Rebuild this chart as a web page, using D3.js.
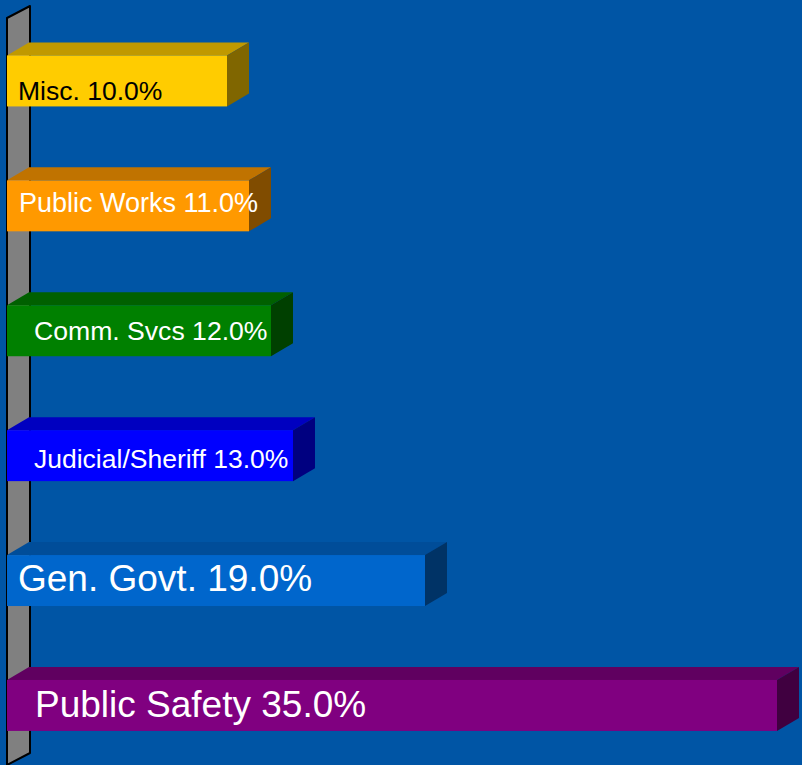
<!DOCTYPE html>
<meta charset="utf-8">
<style>
  body {
    margin: 0;
    background-color: #0055a5;
    font-family: "Liberation Sans", Arial, sans-serif;
  }

  #chart svg {
    display: block;
  }
</style>

<body>
  <div id="chart"></div>

  <script src="https://d3js.org/d3.v7.min.js"></script>
  <script>

    // data, top bar to bottom bar
    var categories = ["Misc.", "Public Works", "Comm. Svcs", "Judicial/Sheriff", "Gen. Govt.", "Public Safety"];
    var shares = [10.0, 11.0, 12.0, 13.0, 19.0, 35.0];

    // face colours for each bar
    var frontColors = ["#ffcc00", "#ff9900", "#008000", "#0000ff", "#0066cc", "#800080"];
    var topColors = ["#c09900", "#c07300", "#006000", "#0000c0", "#004d99", "#600060"];
    var sideColors = ["#806600", "#804c00", "#004000", "#000080", "#003366", "#400040"];

    // label look: colour, font size, left position, baseline below bar top
    var labelColors = ["black", "white", "white", "white", "white", "white"];
    var labelSizes = [26.5, 27, 26.6, 26.5, 37, 37];
    var labelLeft = [18, 19, 34, 34, 18, 35];
    var labelDrop = [44.5, 32, 34.5, 38, 36, 37];

    var width = 802,
      height = 765;

    // 3d depth offset
    var dx = 22, dy = -13;

    var svg = d3.select("#chart")
      .append("svg")
      .attr("width", width)
      .attr("height", height);

    var x = d3.scaleLinear()
      .domain([0, 35])
      .range([7, 777]);

    var y = d3.scaleBand()
      .domain(categories)
      .range([18.5, 767.9])
      .paddingInner(0.592)
      .paddingOuter(0.296);

    // grey side wall
    var wallTop = 18, wallBottom = 765, x0 = x(0);
    svg.append("polygon")
      .attr("points", [
        [x0, wallTop], [x0 + dx + 1, wallTop - 12],
        [x0 + dx + 1, wallBottom - 12], [x0, wallBottom]
      ].join(" "))
      .attr("fill", "#808080")
      .attr("stroke", "black")
      .attr("stroke-width", 2)
      .attr("stroke-linejoin", "round");

    var bars = categories.map(function (c, i) {
      return { key: c, value: shares[i], i: i };
    });

    var g = svg.append("g")
      .selectAll("g")
      .data(bars)
      .enter().append("g");

    // top face
    g.append("polygon")
      .attr("points", function (d) {
        var y0 = y(d.key), x1 = x(d.value);
        return [[x0, y0], [x1, y0], [x1 + dx, y0 + dy], [x0 + dx, y0 + dy]].join(" ");
      })
      .attr("fill", function (d) { return topColors[d.i]; });

    // side face
    g.append("polygon")
      .attr("points", function (d) {
        var y0 = y(d.key), y1 = y0 + y.bandwidth(), x1 = x(d.value);
        return [[x1, y0], [x1 + dx, y0 + dy], [x1 + dx, y1 + dy], [x1, y1]].join(" ");
      })
      .attr("fill", function (d) { return sideColors[d.i]; });

    // front face
    g.append("rect")
      .attr("x", x0)
      .attr("y", function (d) { return y(d.key); })
      .attr("width", function (d) { return x(d.value) - x0; })
      .attr("height", y.bandwidth())
      .attr("fill", function (d) { return frontColors[d.i]; });

    g.append("text")
      .attr("x", function (d) { return labelLeft[d.i]; })
      .attr("y", function (d) { return y(d.key) + labelDrop[d.i]; })
      .attr("fill", function (d) { return labelColors[d.i]; })
      .style("font-size", function (d) { return labelSizes[d.i] + "px"; })
      .text(function (d) { return d.key + " " + d.value.toFixed(1) + "%"; });

  </script>
</body>
